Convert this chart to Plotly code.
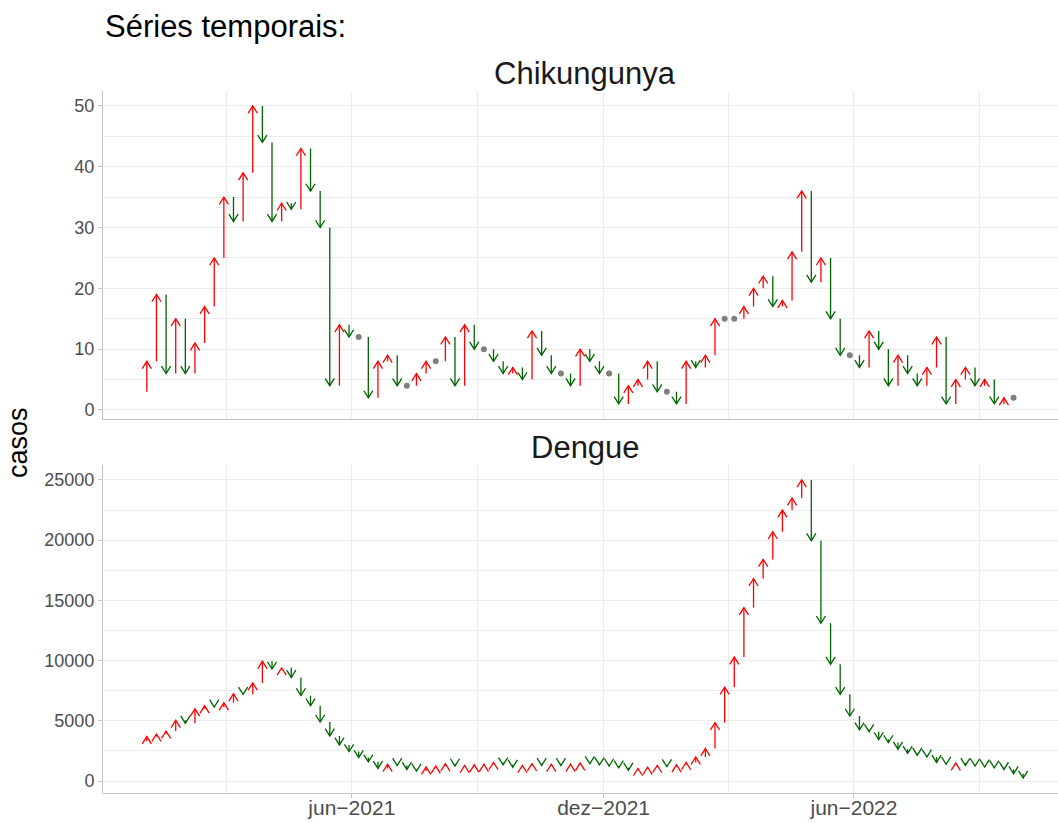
import pandas as pd
import plotly.graph_objects as go

# ---------------- data ----------------
first_week = "2020-12-27"  # weekly series (epidemiological weeks)

chikungunya = [3, 8, 19, 6, 15, 6, 11, 17, 25, 35, 31, 39, 50, 44, 31, 34, 33, 43, 36, 30,
               4, 14, 12, 12, 2, 8, 9, 4, 4, 6, 8, 8, 12, 4, 14, 10, 10, 8, 6, 7,
               5, 13, 9, 6, 6, 4, 10, 8, 6, 6, 1, 4, 5, 8, 3, 3, 1, 8, 7, 9,
               15, 15, 15, 17, 20, 22, 17, 18, 26, 36, 21, 25, 15, 9, 9, 7, 13, 10, 4, 9,
               6, 4, 7, 12, 1, 5, 7, 4, 5, 1, 2, 2, None]

dengue = [3300, 3700, 3900, 4150, 5050, 4800, 6000, 6250, 6150, 6500, 7250, 7200, 8150, 9950,
          9300, 9400, 8600, 7100, 6250, 4900, 3750, 3000, 2450, 1950, 1600, 1050, 1400, 1300,
          970, 830, 1170, 1250, 1440, 1250, 1300, 1350, 1400, 1550, 1350, 1150, 1300, 1450,
          1300, 1400, 1300, 1400, 1500, 1450, 1350, 1250, 1100, 900, 1050, 1150, 1300, 1200,
          1350, 1550, 2000, 2700, 4850, 7800, 10300, 14400, 16800, 18400, 20700, 22500, 23500,
          25000, 19950, 13100, 9700, 7200, 5400, 4250, 4100, 3450, 3200, 2650, 2300, 2150, 2000,
          1550, 1400, 1500, 1300, 1250, 1170, 1100, 970, 610, 250]

panels = ["Chikungunya", "Dengue"]
series = [chikungunya, dengue]
x_tick_dates = ["2021-06-01", "2021-12-01", "2022-06-01"]
x_tick_text = ["jun\u22122021", "dez\u22122021", "jun\u22122022"]
x_minor_dates = ["2021-03-02", "2021-08-31", "2022-03-02", "2022-08-31"]
y_ticks = [[0, 10, 20, 30, 40, 50], [0, 5000, 10000, 15000, 20000, 25000]]
y_minor_step = [5, 2500]

UP_COLOR = "#FF0000"
DOWN_COLOR = "#006400"
SAME_COLOR = "#7F7F7F"

# ---------------- geometry ----------------
W, H = 1058, 823
PLOT_L, PLOT_R = 103, 1058
FULL_PANEL_W = 964          # ggplot panel width (extends past the right edge)
panel_px = [(91, 418.8), (465, 793)]   # top, bottom pixel rows of each panel
HEAD_LEN_PX, HEAD_HW_PX = 7.3, 4.6

dates = pd.date_range(first_week, periods=len(dengue), freq="7D")
d_first, d_last = dates[1], dates[-1]
span = d_last - d_first
x0 = d_first - 0.05 * span
x_full = span * 1.1
x1 = x0 + x_full * ((PLOT_R - PLOT_L) / FULL_PANEL_W)
px_per_day = FULL_PANEL_W / (x_full / pd.Timedelta(days=1))
hw = pd.Timedelta(days=HEAD_HW_PX / px_per_day)

fig = go.Figure()

for k, (name, vals) in enumerate(zip(panels, series)):
    xa = "x" if k == 0 else "x2"
    ya = "y" if k == 0 else "y2"
    good = [v for v in vals if v is not None]
    vmin, vmax = min(good), max(good)
    pad = 0.05 * (vmax - vmin)
    yr = [vmin - pad, vmax + pad]
    top, bot = panel_px[k]
    px_per_unit = (bot - top) / (yr[1] - yr[0])
    hl = HEAD_LEN_PX / px_per_unit

    ux, uy, dx, dy, sx, sy = [], [], [], [], [], []
    for i in range(1, len(vals)):
        prev, cur = vals[i - 1], vals[i]
        if prev is None or cur is None:
            continue
        d = dates[i]
        if cur == prev:
            sx.append(d); sy.append(cur)
            continue
        s = 1 if cur > prev else -1
        X = [d, d, None, d - hw, d, d + hw, None]
        Y = [prev, cur, None, cur - s * hl, cur, cur - s * hl, None]
        if s > 0:
            ux += X; uy += Y
        else:
            dx += X; dy += Y

    fig.add_trace(go.Scatter(x=ux, y=uy, mode="lines", line=dict(color=UP_COLOR, width=1.3),
                             xaxis=xa, yaxis=ya, showlegend=False, hoverinfo="skip"))
    fig.add_trace(go.Scatter(x=dx, y=dy, mode="lines", line=dict(color=DOWN_COLOR, width=1.3),
                             xaxis=xa, yaxis=ya, showlegend=False, hoverinfo="skip"))
    fig.add_trace(go.Scatter(x=sx, y=sy, mode="markers",
                             marker=dict(color=SAME_COLOR, size=6),
                             xaxis=xa, yaxis=ya, showlegend=False, hoverinfo="skip"))

    yaxis = dict(
        domain=[1 - bot / H, 1 - top / H], range=yr, anchor=xa,
        tickvals=y_ticks[k], ticktext=[str(v) for v in y_ticks[k]],
        showgrid=True, gridcolor="#EBEBEB", gridwidth=1.1,
        minor=dict(dtick=y_minor_step[k], tick0=0, showgrid=True, gridcolor="#EBEBEB", gridwidth=0.6),
        showline=True, linecolor="#C4C4C4", linewidth=1,
        ticks="outside", ticklen=4, tickcolor="#C4C4C4",
        tickfont=dict(family="Liberation Sans", size=18, color="#4D4D4D"),
        zeroline=False, automargin=False, fixedrange=True,
    )
    xaxis = dict(
        type="date", range=[x0, x1], anchor=ya,
        tickvals=x_tick_dates, ticktext=x_tick_text,
        showgrid=True, gridcolor="#EBEBEB", gridwidth=1.1,
        minor=dict(tickvals=x_minor_dates, showgrid=True, gridcolor="#EBEBEB", gridwidth=0.6),
        showline=True, linecolor="#C4C4C4", linewidth=1,
        ticks="outside" if k == 1 else "", ticklen=4, tickcolor="#C4C4C4",
        ticklabelstandoff=-8,
        showticklabels=(k == 1),
        tickfont=dict(family="Liberation Sans", size=21, color="#4D4D4D"),
        zeroline=False, automargin=False, fixedrange=True,
    )
    if k == 0:
        fig.update_layout(xaxis=xaxis, yaxis=yaxis)
    else:
        fig.update_layout(xaxis2=xaxis, yaxis2=yaxis)

    # facet strip label
    fig.add_annotation(text=name, xref="paper", yref="paper",
                       x=(585 - PLOT_L) / (PLOT_R - PLOT_L), y=1 - (top - 18) / H,
                       xanchor="center", yanchor="middle", showarrow=False,
                       font=dict(family="Liberation Sans", size=31, color="#1A1A1A"))

fig.add_annotation(text="Séries temporais:", xref="paper", yref="paper",
                   x=(103 - PLOT_L) / (PLOT_R - PLOT_L), y=1 - 27 / H,
                   xanchor="left", yanchor="middle", showarrow=False,
                   font=dict(family="Liberation Sans", size=31, color="#000000"))
fig.add_annotation(text="casos", xref="paper", yref="paper",
                   x=(18 - PLOT_L) / (PLOT_R - PLOT_L), y=1 - 443 / H,
                   xanchor="center", yanchor="middle", showarrow=False, textangle=-90,
                   font=dict(family="Liberation Sans", size=27, color="#000000"))

fig.update_layout(
    width=W, height=H,
    margin=dict(l=PLOT_L, r=W - PLOT_R, t=0, b=0, autoexpand=False),
    plot_bgcolor="white", paper_bgcolor="white",
    showlegend=False,
)

fig.write_html("out.html", config={"displayModeBar": False},
               post_script="document.body.style.margin='0px';")
